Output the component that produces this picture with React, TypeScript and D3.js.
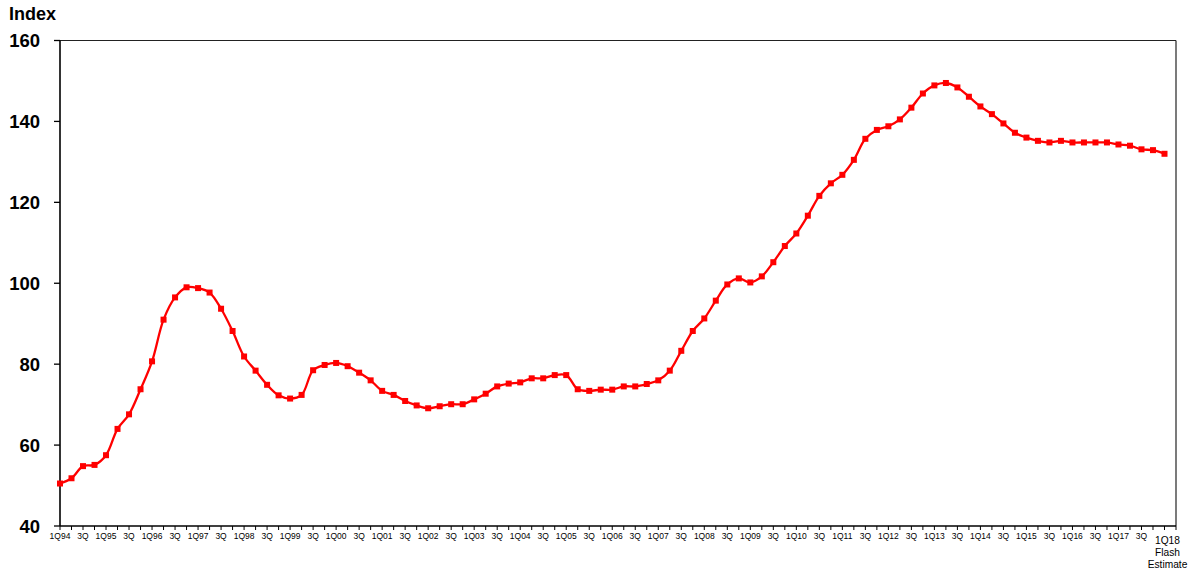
import React from 'react';
import * as d3 from 'd3';

// quarterly index, 1Q94 .. 1Q18 (flash estimate)
const indexValues = [
  50.5, 51.8, 54.8, 55.1, 57.5, 64.0, 67.6, 73.8, 80.7, 91.0, 96.5, 99.0,
  98.8, 97.7, 93.7, 88.2, 81.9, 78.4, 74.9, 72.3, 71.5, 72.4, 78.5, 79.8,
  80.3, 79.5, 77.9, 76.0, 73.4, 72.4, 70.9, 69.8, 69.1, 69.6, 70.1, 70.1,
  71.3, 72.7, 74.5, 75.2, 75.5, 76.5, 76.5, 77.3, 77.3, 73.8, 73.4, 73.7,
  73.7, 74.5, 74.5, 75.1, 76.0, 78.4, 83.3, 88.2, 91.3, 95.7, 99.7, 101.2,
  100.2, 101.7, 105.2, 109.2, 112.3, 116.7, 121.6, 124.7, 126.8, 130.5, 135.7, 137.9,
  138.8, 140.5, 143.4, 146.9, 148.9, 149.5, 148.4, 146.1, 143.7, 141.8, 139.5, 137.2,
  136.0, 135.2, 134.8, 135.2, 134.8, 134.8, 134.8, 134.8, 134.3, 134.0, 133.1, 132.9,
  132.0,
];

// one label every second quarter
const quarterLabels = [
  '1Q94', '3Q', '1Q95', '3Q', '1Q96', '3Q', '1Q97', '3Q', '1Q98', '3Q',
  '1Q99', '3Q', '1Q00', '3Q', '1Q01', '3Q', '1Q02', '3Q', '1Q03', '3Q',
  '1Q04', '3Q', '1Q05', '3Q', '1Q06', '3Q', '1Q07', '3Q', '1Q08', '3Q',
  '1Q09', '3Q', '1Q10', '3Q', '1Q11', '3Q', '1Q12', '3Q', '1Q13', '3Q',
  '1Q14', '3Q', '1Q15', '3Q', '1Q16', '3Q', '1Q17', '3Q', '1Q18',
];
const lastLabelLines = ['1Q18', 'Flash', 'Estimate'];

const yTicks = [40, 60, 80, 100, 120, 140, 160];

export default function App() {
  const width = 1197;
  const height = 573;
  const margin = { top: 40.5, bottom: 47, left: 60, right: 21 };

  const x = d3
    .scaleLinear()
    .domain([0, 97])
    .range([margin.left, width - margin.right]);

  const y = d3
    .scaleLinear()
    .domain([40, 160])
    .range([height - margin.bottom, margin.top]);

  const line = d3
    .line<number>()
    .x((_, i) => x(i))
    .y((d) => y(d))
    .curve(d3.curveCatmullRom.alpha(0.5));

  const bottom = height - margin.bottom;
  const right = width - margin.right;
  const font = 'Arial, "Liberation Sans", sans-serif';
  const lastX = x((quarterLabels.length - 1) * 2) + 3;

  return (
    <div style={{ position: 'absolute', left: 0, top: 0 }}>
      <svg width={width} height={height} style={{ display: 'block', background: '#fff' }}>
        {/* frame */}
        <line x1={margin.left} x2={right} y1={margin.top} y2={margin.top} stroke="#222" strokeWidth={1.2} />
        <line x1={right} x2={right} y1={margin.top} y2={bottom} stroke="#222" strokeWidth={1.2} />

        {/* y axis */}
        <line x1={margin.left} x2={margin.left} y1={margin.top} y2={bottom} stroke="#000" strokeWidth={1.6} />
        {yTicks.map((t) => (
          <g key={t}>
            <line x1={margin.left - 6} x2={margin.left} y1={y(t)} y2={y(t)} stroke="#000" strokeWidth={1.3} />
            <text
              x={40}
              y={y(t)}
              dy="0.36em"
              textAnchor="end"
              fontFamily={font}
              fontWeight="bold"
              fontSize={18.5}
              fill="#000"
            >
              {t}
            </text>
          </g>
        ))}
        <text x={9} y={20} fontFamily={font} fontWeight="bold" fontSize={18} fill="#000">
          Index
        </text>

        {/* x axis */}
        <line x1={margin.left} x2={right} y1={bottom} y2={bottom} stroke="#000" strokeWidth={1.6} />
        {indexValues.map((_, i) => (
          <line key={i} x1={x(i)} x2={x(i)} y1={bottom} y2={bottom + 4} stroke="#000" strokeWidth={1} />
        ))}
        <line x1={right} x2={right} y1={bottom} y2={bottom + 4} stroke="#000" strokeWidth={1} />
        {quarterLabels.slice(0, -1).map((lab, k) => (
          <text
            key={k}
            x={x(k * 2)}
            y={bottom + 13}
            textAnchor="middle"
            fontFamily={font}
            fontSize={8.5}
            fill="#000"
          >
            {lab}
          </text>
        ))}
        {lastLabelLines.map((lab, k) => (
          <text
            key={lab}
            x={lastX}
            y={bottom + 18 + k * 12}
            textAnchor="middle"
            fontFamily={font}
            fontSize={10.2}
            fill="#000"
          >
            {lab}
          </text>
        ))}

        {/* series */}
        <path d={line(indexValues) ?? ''} fill="none" stroke="#ff0000" strokeWidth={2.3} />
        {indexValues.map((v, i) => (
          <rect key={i} x={x(i) - 3} y={y(v) - 3} width={6} height={6} fill="#ff0000" />
        ))}
      </svg>
    </div>
  );
}
